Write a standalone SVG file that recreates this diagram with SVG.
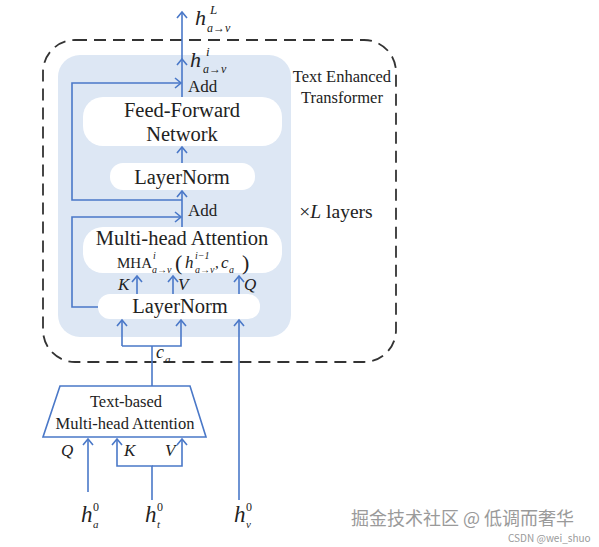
<svg xmlns="http://www.w3.org/2000/svg" width="599" height="547" viewBox="0 0 599 547">
<style>
text{font-family:"Liberation Serif","Times New Roman",serif;fill:#222}
.i{font-style:italic}
.box{fill:#fff;stroke:none}
.ln{fill:none;stroke:#4a78c8;stroke-width:1.6}
.wm{font-family:"Noto Sans CJK SC","Liberation Sans",sans-serif;fill:#9a9a9a}
</style>
<defs>
<marker id="ah" markerUnits="userSpaceOnUse" markerWidth="12" markerHeight="12" viewBox="-7 -6 9 12" refX="0" refY="0" orient="auto">
<path d="M-6,-5 L0,0 L-6,5" fill="none" stroke="#4a78c8" stroke-width="1.6"/>
</marker>
</defs>
<rect width="599" height="547" fill="#fff"/>
<g id="outer">
<rect x="43" y="40" width="353" height="322" rx="32" fill="none" stroke="#333" stroke-width="1.8" stroke-dasharray="12,7"/>
<text x="342" y="82" text-anchor="middle" font-size="16.5">Text Enhanced</text>
<text x="342" y="103" text-anchor="middle" font-size="16.5">Transformer</text>
<text x="336" y="218" text-anchor="middle" font-size="19.5">×<tspan class="i">L</tspan> layers</text>
</g>
<g id="panel"><rect x="58" y="55" width="233" height="282" rx="22" fill="#dde7f4"/></g>
<g id="ffn"><rect class="box" x="83" y="97" width="199" height="49" rx="20"/>
<text x="182" y="117" text-anchor="middle" font-size="20.5">Feed-Forward</text>
<text x="182" y="141" text-anchor="middle" font-size="20.5">Network</text></g>
<g id="ln1"><rect class="box" x="110" y="163" width="145" height="27" rx="13"/>
<text x="182" y="184" text-anchor="middle" font-size="20.5">LayerNorm</text></g>
<g id="mha"><rect class="box" x="83" y="227" width="199" height="46" rx="20"/>
<text x="182" y="245" text-anchor="middle" font-size="20.5">Multi-head Attention</text>
<text x="117" y="268" font-size="15">MHA</text>
<text x="153" y="259" class="i" font-size="10">i</text>
<text x="152" y="273" class="i" font-size="10">a→v</text>
<text x="175" y="270" font-size="22">(</text>
<text x="185" y="268" class="i" font-size="17">h</text>
<text x="195" y="259" class="i" font-size="10">i−1</text>
<text x="195" y="273" class="i" font-size="10">a→v</text>
<text x="215" y="268" font-size="15">,</text>
<text x="221" y="268" class="i" font-size="17">c</text>
<text x="229" y="273" class="i" font-size="10">a</text>
<text x="242" y="270" font-size="22">)</text></g>
<g id="ln2"><rect class="box" x="98" y="294" width="162" height="25" rx="12"/>
<text x="180" y="313" text-anchor="middle" font-size="20.5">LayerNorm</text></g>
<g id="tbmha"><path d="M60,386 L190,386 L206,437 L43,437 Z" fill="#fff" stroke="#4a78c8" stroke-width="1.6"/>
<text x="126" y="407" text-anchor="middle" font-size="16.5">Text-based</text>
<text x="125" y="429" text-anchor="middle" font-size="16.5">Multi-head Attention</text></g>
<g id="connectors">
<path class="ln" d="M182,227 L182,191" marker-end="url(#ah)"/>
<path class="ln" d="M182,163 L182,147" marker-end="url(#ah)"/>
<path class="ln" d="M182,97 L182,59" marker-end="url(#ah)"/>
<path class="ln" d="M182,59 L182,12" marker-end="url(#ah)"/>
<path class="ln" d="M182,200 L72,200 L72,83 L181,83" marker-end="url(#ah)"/>
<path class="ln" d="M98,307 L72,307 L72,217 L181,217" marker-end="url(#ah)"/>
<path class="ln" d="M137,294 L137,276" marker-end="url(#ah)"/>
<path class="ln" d="M173,294 L173,276" marker-end="url(#ah)"/>
<path class="ln" d="M239,294 L239,276" marker-end="url(#ah)"/>
<path class="ln" d="M152,386 L152,346"/>
<path class="ln" d="M122,346 L122,320" marker-end="url(#ah)"/>
<path class="ln" d="M122,346 L181,346 L181,320" marker-end="url(#ah)"/>
<path class="ln" d="M239,500 L239,320" marker-end="url(#ah)"/>
<path class="ln" d="M88,492 L88,439" marker-end="url(#ah)"/>
<path class="ln" d="M152,500 L152,466 L117,466 L117,439" marker-end="url(#ah)"/>
<path class="ln" d="M152,466 L182,466 L182,439" marker-end="url(#ah)"/>
</g>
<g id="labels">
<text x="195" y="25" class="i" font-size="22">h</text>
<text x="210" y="14" class="i" font-size="13">L</text>
<text x="207" y="32" class="i" font-size="12">a→v</text>
<text x="190" y="67" class="i" font-size="22">h</text>
<text x="206" y="56" class="i" font-size="13">i</text>
<text x="203" y="73" class="i" font-size="12">a→v</text>
<text x="188" y="92" font-size="17">Add</text>
<text x="188" y="216" font-size="17">Add</text>
<text x="118" y="290" class="i" font-size="17">K</text>
<text x="178" y="290" class="i" font-size="17">V</text>
<text x="244" y="290" class="i" font-size="17">Q</text>
<text x="156" y="358" class="i" font-size="18">c</text>
<text x="165" y="363" class="i" font-size="11">a</text>
<text x="61" y="456" class="i" font-size="17">Q</text>
<text x="124" y="456" class="i" font-size="17">K</text>
<text x="165" y="456" class="i" font-size="17">V</text>
<text x="81" y="522" class="i" font-size="23">h</text>
<text x="93" y="511" font-size="12">0</text>
<text x="93" y="528" class="i" font-size="11">a</text>
<text x="145" y="522" class="i" font-size="23">h</text>
<text x="157" y="511" font-size="12">0</text>
<text x="157" y="528" class="i" font-size="11">t</text>
<text x="234" y="522" class="i" font-size="23">h</text>
<text x="246" y="511" font-size="12">0</text>
<text x="246" y="528" class="i" font-size="11">v</text>
</g>
<g id="watermark">
<text class="wm" x="351" y="525" font-size="18">掘金技术社区 @ 低调而奢华</text>
<text class="wm" x="508" y="542" font-size="10" fill="#bbb">CSDN @wei_shuo</text>
</g>
</svg>
